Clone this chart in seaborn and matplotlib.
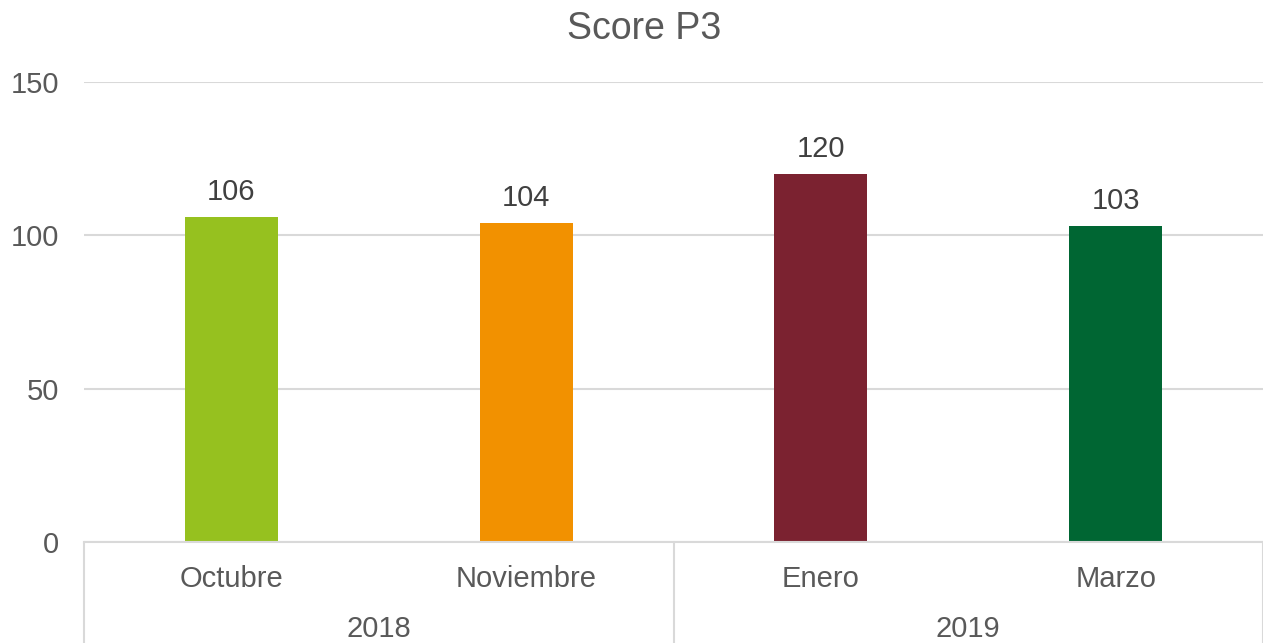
import matplotlib
matplotlib.use("Agg")
import matplotlib.pyplot as plt
import matplotlib.transforms as mtransforms
import pandas as pd
import seaborn as sns

months = ["Octubre", "Noviembre", "Enero", "Marzo"]
years = ["2018", "2018", "2019", "2019"]
scores = [106, 104, 120, 103]
bar_colors = ["#96C11F", "#F29100", "#7B2230", "#006633"]
y_ticks = [0, 50, 100, 150]

sns.set_theme(style="white")
plt.rcParams["font.family"] = ["Liberation Sans", "DejaVu Sans"]

TEXT = "#595959"
GRID = "#D9D9D9"

df = pd.DataFrame({"month": months, "year": years, "score": scores})

fig = plt.figure(figsize=(12.63, 6.43), dpi=100)
ax = fig.add_axes([84 / 1263, 101 / 643, 1 - 84 / 1263, 460 / 643])

sns.barplot(
    data=df, x="month", y="score", hue="month", palette=bar_colors,
    width=0.315, legend=False, ax=ax, saturation=1, linewidth=0,
)

ax.set_ylim(0, 150)
ax.set_xlim(-0.5, len(months) - 0.5)
ax.set_yticks(y_ticks)
ax.yaxis.grid(True, color=GRID, linewidth=1.5)
ax.set_axisbelow(True)
for side in ["top", "right", "left"]:
    ax.spines[side].set_visible(False)
ax.spines["bottom"].set_color(GRID)
ax.spines["bottom"].set_linewidth(1.5)
ax.tick_params(axis="y", length=0, labelsize=21, labelcolor=TEXT, pad=18)
ax.tick_params(axis="x", length=0, labelsize=21, labelcolor=TEXT, pad=16.5)
ax.set_xlabel("")
ax.set_ylabel("")

for container in ax.containers:
    ax.bar_label(container, fmt="%d", padding=8, fontsize=21, color="#404040")

# two-level category axis: year groups with separators
trans = mtransforms.blended_transform_factory(ax.transData, ax.transAxes)
groups = []
for i, yr in enumerate(years):
    if not groups or groups[-1][0] != yr:
        groups.append([yr, i, i])
    else:
        groups[-1][2] = i
bounds = sorted({g[1] - 0.5 for g in groups} | {g[2] + 0.5 for g in groups})
for b in bounds:
    ax.plot([b, b], [0, -0.23], transform=trans, color=GRID,
            linewidth=1.5, clip_on=False)
for yr, start, end in groups:
    ax.text((start + end) / 2, -0.19, yr, transform=trans, ha="center",
            va="center", fontsize=21, color=TEXT)

fig.text(644 / 1263, 1 - 29 / 643, "Score P3", ha="center", va="center",
         fontsize=27, color=TEXT)

fig.savefig("out.png", dpi=100)
